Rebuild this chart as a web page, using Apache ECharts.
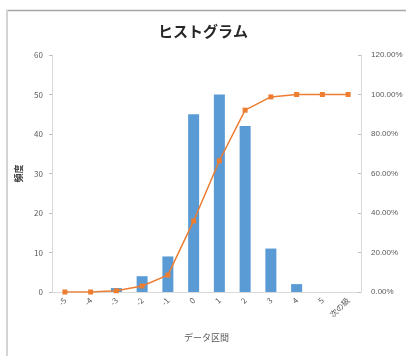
<!DOCTYPE html>
<html><head><meta charset="utf-8">
<script src="https://cdn.jsdelivr.net/npm/echarts@6/dist/echarts.min.js"></script>
<style>html,body{margin:0;padding:0;background:#fff}#c{width:406px;height:356px}</style>
</head><body><div id="c"></div>
<script>
const categories = ['-5','-4','-3','-2','-1','0','1','2','3','4','5','次の級'];
const frequency = [0,0,1,4,9,45,50,42,11,2,0,0];
const cumulativePct = [0,0,0.61,3.05,8.54,35.98,66.46,92.07,98.78,100,100,100];
const leftTicks = {min:0, max:60, interval:10};
const rightTicks = {min:0, max:120, interval:20};

const chart = echarts.init(document.getElementById('c'), null, {renderer:'canvas'});
const font = 'Noto Sans CJK JP';
chart.setOption({
  animation:false,
  backgroundColor:'#fff',
  title:{text:'ヒストグラム', left:'center', top:19,
    textStyle:{fontFamily:font, fontSize:15, fontWeight:'bold', color:'#262626'}},
  graphic:[
    {type:'line', shape:{x1:6, y1:10.5, x2:406, y2:10.5}, style:{stroke:'#a6a6a6', lineWidth:1.5}},
    {type:'line', shape:{x1:7, y1:10, x2:7, y2:356}, style:{stroke:'#d4d4d4', lineWidth:2}}
  ],
  grid:{left:52, right:45, top:55, bottom:64},
  xAxis:{type:'category', data:categories, name:'データ区間', nameLocation:'middle', nameGap:41,
    nameTextStyle:{fontFamily:font, fontSize:9, color:'#595959'},
    axisLine:{lineStyle:{color:'#d9d9d9'}}, axisTick:{show:false},
    axisLabel:{rotate:45, interval:0, fontFamily:font, fontSize:8, color:'#595959', margin:7}},
  yAxis:[
    {type:'value', min:leftTicks.min, max:leftTicks.max, interval:leftTicks.interval,
     name:'頻度', nameLocation:'middle', nameGap:26, nameRotate:90,
     nameTextStyle:{fontFamily:font, fontSize:9, fontWeight:'bold', color:'#404040'},
     splitLine:{show:false},
     axisLine:{show:true, lineStyle:{color:'#d9d9d9'}},
     axisTick:{show:true, length:3, lineStyle:{color:'#bfbfbf'}},
     axisLabel:{fontFamily:font, fontSize:8, color:'#595959', margin:9}},
    {type:'value', min:rightTicks.min, max:rightTicks.max, interval:rightTicks.interval,
     splitLine:{show:false},
     axisLine:{show:true, lineStyle:{color:'#d9d9d9'}},
     axisTick:{show:true, inside:true, length:3, lineStyle:{color:'#bfbfbf'}},
     axisLabel:{fontFamily:'Liberation Sans', fontSize:8, color:'#595959', margin:10,
       formatter:v=>v.toFixed(2)+'%'}}
  ],
  series:[
    {type:'bar', data:frequency, barWidth:11, itemStyle:{color:'#5b9bd5'}},
    {type:'line', yAxisIndex:1, data:cumulativePct, symbol:'rect', symbolSize:5,
     lineStyle:{color:'#ed7d31', width:1.5}, itemStyle:{color:'#ed7d31'}}
  ]
});
</script></body></html>
